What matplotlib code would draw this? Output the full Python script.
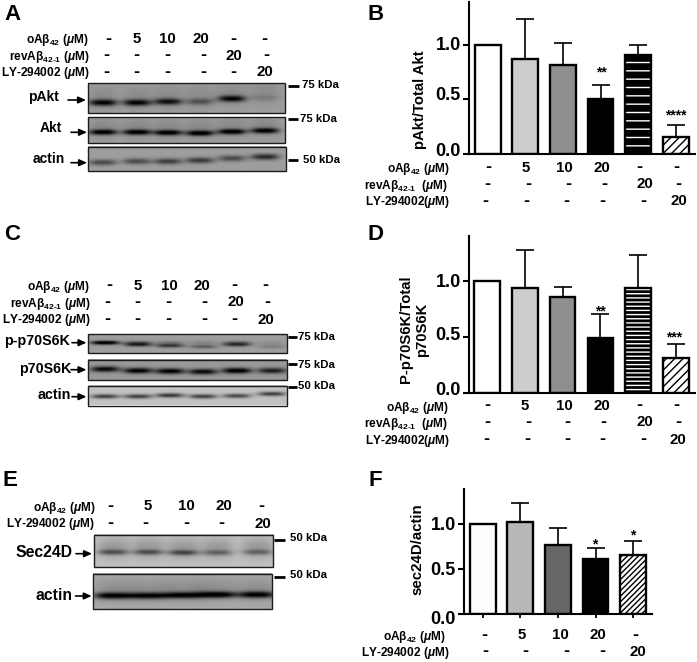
import numpy as np
import matplotlib
matplotlib.use("Agg")
import matplotlib.pyplot as plt
from matplotlib.transforms import ScaledTranslation

plt.rcParams["font.family"] = ["Liberation Sans", "DejaVu Sans"]
plt.rcParams["font.weight"] = "bold"
plt.rcParams["mathtext.fontset"] = "custom"
plt.rcParams["mathtext.rm"] = "Liberation Sans:bold"
plt.rcParams["mathtext.it"] = "Liberation Sans:italic:bold"
plt.rcParams["mathtext.bf"] = "Liberation Sans:bold"
plt.rcParams["mathtext.default"] = "regular"
plt.rcParams["hatch.linewidth"] = 1.0

W, H = 697, 662

# ── bar chart values ───────────────────────────────────────────────────────────
b_vals = [1.0, 0.875, 0.815, 0.50, 0.91, 0.155]
b_errs = [0.0, 0.36, 0.205, 0.135, 0.09, 0.115]
d_vals = [1.0, 0.94, 0.858, 0.49, 0.94, 0.31]
d_errs = [0.0, 0.335, 0.09, 0.22, 0.29, 0.13]
f_vals = [1.0, 1.022, 0.762, 0.606, 0.65]
f_errs = [0.0, 0.215, 0.197, 0.126, 0.16]

# ── condition rows ─────────────────────────────────────────────────────────────
oab_label = r"oAβ$_{42}$ ($\mathit{μ}$M)"
rev_label = r"revAβ$_{42\text{-}1}$ ($\mathit{μ}$M)"
rev_label2 = r"revAβ$_{42\text{-}1}$  ($\mathit{μ}$M)"
ly_label = r"LY-294002 ($\mathit{μ}$M)"
ly_label2 = r"LY-294002($\mathit{μ}$M)"

oab_row6 = ["-", "5", "10", "20", "-", "-"]
rev_row6 = ["-", "-", "-", "-", "20", "-"]
ly_row6 = ["-", "-", "-", "-", "-", "20"]
oab_row5 = ["-", "5", "10", "20", "-"]
ly_row5 = ["-", "-", "-", "-", "20"]

# ── blot band strengths (how dark each lane looks) ─────────────────────────────
pakt_y = [103, 103, 102, 102, 99, 98]
pakt_s = [0.58, 0.58, 0.52, 0.25, 0.56, 0.08]
akt_y = [132.5, 132.5, 133, 133.5, 132, 131]
akt_s = [0.62, 0.64, 0.64, 0.64, 0.64, 0.60]
actin_a_y = [163, 162, 162, 161, 159, 157.5]
actin_a_s = [0.33, 0.33, 0.38, 0.40, 0.33, 0.47]
pp70_upper = [0.32, 0.24, 0.14, 0.10, 0.20, 0.06]
pp70_y = [343, 345, 346, 347, 345, 347]
pp70_s = [0.40, 0.44, 0.42, 0.26, 0.40, 0.13]
p70_y = [369.5, 371, 371.5, 372, 371, 371]
p70_s = [0.58, 0.62, 0.62, 0.58, 0.66, 0.50]
actin_c_y = [397, 397, 396, 397, 396.5, 394.5]
actin_c_s = [0.52, 0.52, 0.56, 0.52, 0.48, 0.52]
sec_y = [552.5, 552.5, 553, 553, 552.5]
sec_s = [0.34, 0.34, 0.38, 0.26, 0.26]
actin_e_y = [596, 596, 595.5, 595, 595]
actin_e_s = [0.62, 0.60, 0.62, 0.66, 0.62]

fig = plt.figure(figsize=(W / 100, H / 100), dpi=100)
fig.patch.set_facecolor("white")

# overlay in picture pixels for the figure furniture
ov = fig.add_axes([0, 0, 1, 1], zorder=5)
ov.set_xlim(0, W)
ov.set_ylim(H, 0)
ov.axis("off")
ov.patch.set_alpha(0)
ov.set_autoscale_on(False)


def txt(x, y, s, size=8.6, ha="center"):
    ov.text(x, y, s, fontsize=size, ha=ha, va="center", color="black")


def row(xs, y, labels, size=10.8):
    for x, s in zip(xs, labels):
        # hyphens are drawn a bit larger, they are chunky in the original
        txt(x, y, s, size=13 if s == "-" else size)


def blot(box, lanes, ys, strengths, bg, width, thick, haze=0.0, ys2=None, s2=None):
    x0, y0, x1, y1 = box
    xx, yy = np.meshgrid(np.linspace(x0, x1, int((x1 - x0) * 3)),
                         np.linspace(y0, y1, int((y1 - y0) * 3)))
    img = np.full(xx.shape, bg, dtype=float)
    for i, cx in enumerate(lanes):
        prof = np.exp(-np.abs((xx - cx) / width) ** 3)
        img -= strengths[i] * prof * np.exp(-((yy - ys[i]) / thick) ** 2)
        if haze:
            # soft lane haze around the band
            img -= haze * np.exp(-np.abs((xx - cx) / (width * 1.1)) ** 3) \
                * np.exp(-((yy - ys[i] + thick * 1.6) / (thick * 4.0)) ** 2)
        if ys2 is not None:
            img -= s2[i] * prof * np.exp(-((yy - ys2[i]) / thick) ** 2)
    ov.imshow(np.clip(img, 0, 1), cmap="gray", vmin=0, vmax=1, aspect="auto",
              extent=(x0, x1, y1, y0), interpolation="bilinear", zorder=1)
    ov.add_patch(plt.Rectangle((x0, y0), x1 - x0, y1 - y0, fill=False,
                               edgecolor="#1c1c1c", linewidth=1.0, zorder=2))


def marker(x0, x1, y, tx, ty, s):
    ov.plot([x0, x1], [y, y], color="black", lw=2.0, solid_capstyle="butt")
    txt(tx, ty, s, size=8.2, ha="left")


def arrow(x0, x1, y, tx, ty, s, size=10):
    ov.annotate("", xy=(x1, y), xytext=(x0, y),
                arrowprops=dict(arrowstyle="-|>,head_length=0.45,head_width=0.2",
                                color="black", lw=1.2, shrinkA=0, shrinkB=0))
    txt(tx, ty, s, size=size)


def bars(rect, x_first, x_step, y_px_per_unit, vals, errs, colors, hatches, inverted,
         label_dy, ticks_below=False):
    left, top, right, bottom = rect
    ax = fig.add_axes([left / W, 1 - bottom / H, (right - left) / W, (bottom - top) / H])
    x = np.arange(len(vals))
    ax.set_xlim((left - x_first) / x_step, (right - x_first) / x_step)
    ax.set_ylim(0, (bottom - top) / y_px_per_unit)
    width = 25.7 / x_step
    for i, v in enumerate(vals):
        ec = "white" if inverted[i] else "black"
        ax.bar(x[i], v, width=width, color=colors[i], edgecolor=ec, hatch=hatches[i],
               linewidth=0, zorder=2)
        ax.bar(x[i], v, width=width, color="none", edgecolor="black", linewidth=1.7, zorder=3)
    ax.errorbar(x[1:], vals[1:], yerr=[np.zeros(len(vals) - 1), errs[1:]], fmt="none",
                ecolor="black", elinewidth=1.2, capsize=6.2, capthick=1.2, zorder=1)
    for s in ["top", "right"]:
        ax.spines[s].set_visible(False)
    for s in ["left", "bottom"]:
        ax.spines[s].set_linewidth(1.5)
    ax.set_yticks([0, 0.5, 1.0])
    ax.set_yticklabels(["0.0", "0.5", "1.0"], fontsize=13, fontweight="bold")
    ax.tick_params(axis="y", length=4.4, width=1.5, pad=1.5)
    # the original tick labels do not sit exactly on their ticks
    for lab, dy in zip(ax.get_yticklabels(), label_dy):
        lab.set_transform(lab.get_transform() + ScaledTranslation(0, dy / 100, fig.dpi_scale_trans))
    if ticks_below:
        ax.set_xticks(x)
        ax.set_xticklabels([])
        ax.tick_params(axis="x", length=3.2, width=1.3)
    else:
        ax.set_xticks([])
    ax.patch.set_alpha(0)
    return ax


# ── Panel A ────────────────────────────────────────────────────────────────────
txt(12.3, 14, "A", size=16)
txt(88, 40, oab_label, ha="right")
txt(89, 57, rev_label, ha="right")
txt(89, 73, ly_label, ha="right")
row([108, 137, 167, 201, 233, 264], 39, oab_row6)
row([106, 136, 167, 203, 234, 266], 55.5, rev_row6)
row([106, 136, 167, 203, 233, 265], 72.3, ly_row6)
lanes_a = [103, 137, 168, 200, 232, 265]
blot((88, 83.3, 285, 113.3), lanes_a, pakt_y, pakt_s, 0.62, 14, 3.2, haze=0.07)
blot((88, 117.3, 285, 143.3), lanes_a, akt_y, akt_s, 0.62, 14, 2.7, haze=0.08)
blot((88.3, 147, 285.7, 171.3), lanes_a, actin_a_y, actin_a_s, 0.62, 14, 3.0)
marker(287.5, 298.5, 86, 301.5, 85, "75 kDa")
marker(287.5, 297.5, 119.3, 300.5, 118.7, "75 kDa")
marker(287.5, 298, 160, 303, 160.3, "50 kDa")
arrow(68, 86, 100, 43.5, 97.3, "pAkt")
arrow(71, 87, 132.3, 51, 128.3, "Akt")
arrow(71, 87, 162.7, 48.7, 159.3, "actin")

# ── Panel B ────────────────────────────────────────────────────────────────────
txt(375.7, 14, "B", size=16)
bars((469, 2, 695, 154), 487.7, 37.6, 109, b_vals, b_errs,
     ["white", "#cdcdcd", "#8f8f8f", "black", "black", "white"],
     [None, None, None, None, "--", "////"],
     [False, False, False, False, True, False], [4, 6, 2])
ov.text(420, 99.7, "pAkt/Total Akt", rotation=90, fontsize=10.7, ha="center", va="center")
ov.text(601, 72, "**", fontsize=10, ha="center", va="center")
ov.text(675.7, 115, "****", fontsize=10, ha="center", va="center")
txt(449, 169, oab_label, ha="right")
txt(448, 186, rev_label2, ha="right")
txt(450, 201.7, ly_label2, ha="right")
row([488, 525.7, 564, 602, 639, 676], 167.7, oab_row6)
row([487.7, 528.3, 568.3, 604, 645, 678.3], 184.3, rev_row6)
row([485.7, 526.7, 566.7, 602.3, 643.3, 679], 201, ly_row6)

# ── Panel C ────────────────────────────────────────────────────────────────────
txt(12.3, 234.7, "C", size=16)
txt(89.5, 287, oab_label, ha="right")
txt(90.5, 304, rev_label, ha="right")
txt(90.5, 320.5, ly_label, ha="right")
row([109, 138, 169, 202, 234.5, 265.5], 285.5, oab_row6)
row([107, 137, 168.5, 204, 235.5, 267.5], 302.5, rev_row6)
row([107, 137, 168, 204, 234.5, 266], 319.5, ly_row6)
lanes_c = [105, 138, 170, 203, 237, 272]
blot((88, 334.3, 287, 353.3), lanes_c, [343] * 6, pp70_upper, 0.62, 14, 2.0,
     ys2=pp70_y, s2=pp70_s)
blot((88, 359.7, 287, 380), lanes_c, p70_y, p70_s, 0.60, 14.5, 2.8)
blot((88, 385.7, 287, 405.5), lanes_c, actin_c_y, actin_c_s, 0.76, 14, 2.2)
marker(288, 296.5, 337.3, 298, 336.5, "75 kDa")
marker(288, 296.5, 364.3, 298.5, 365, "75 kDa")
marker(288, 296.5, 386.7, 298.5, 386, "50 kDa")
arrow(72, 86.5, 342.7, 36.5, 341, "p-p70S6K", size=10.3)
arrow(71, 86.5, 369.7, 45, 369.3, "p70S6K", size=10.3)
arrow(72, 86.5, 396.7, 54, 395, "actin", size=10.3)

# ── Panel D ────────────────────────────────────────────────────────────────────
txt(375.7, 235, "D", size=16)
bars((469, 236, 695, 393.3), 487, 37.8, 112.3, d_vals, d_errs,
     ["white", "#cdcdcd", "#8f8f8f", "black", "black", "white"],
     [None, None, None, None, "----", "////"],
     [False, False, False, False, True, False], [5, 4, 0.5])
ov.text(414, 329.5, "P-p70S6K/Total\np70S6K", rotation=90, fontsize=10.7, ha="center", va="center",
        multialignment="center", linespacing=1.15)
ov.text(600.7, 311, "**", fontsize=10, ha="center", va="center")
ov.text(674, 337, "***", fontsize=10, ha="center", va="center")
txt(448.5, 408, oab_label, ha="right")
txt(447.5, 424, rev_label2, ha="right")
txt(450, 441, ly_label2, ha="right")
row([487, 525, 564, 602, 639, 676], 405.7, oab_row6)
row([487, 528, 567, 603, 645, 678], 422.5, rev_row6)
row([486, 527, 567, 602, 643, 678], 439.5, ly_row6)

# ── Panel E ────────────────────────────────────────────────────────────────────
txt(10, 480, "E", size=16)
txt(95, 507.5, oab_label, ha="right")
txt(94.5, 524, ly_label, ha="right")
row([110, 147.5, 186, 224, 261.5], 506.5, oab_row5)
row([110, 145, 186, 221, 263], 523.5, ly_row5)
lanes_e = [113, 148, 183, 217, 257]
blot((94, 534.7, 273.3, 567), lanes_e, sec_y, sec_s, 0.76, 15, 2.6, haze=0.16)
blot((93.3, 573.7, 272, 609), lanes_e, actin_e_y, actin_e_s, 0.68, 19, 3.2, haze=0.12)
marker(273.5, 285, 539.7, 289.7, 538.3, "50 kDa")
marker(273.5, 285, 577, 289.7, 575.3, "50 kDa")
arrow(76, 92, 553.7, 44, 552.7, "Sec24D", size=11.3)
arrow(75.5, 91.7, 596, 54, 596, "actin", size=11.3)

# ── Panel F ────────────────────────────────────────────────────────────────────
txt(375, 480, "F", size=16)
bars((464, 488.7, 651.7, 613.7), 482.7, 37.6, 89.7, f_vals, f_errs,
     ["#fdfdfd", "#b8b8b8", "#666666", "black", "white"],
     [None, None, None, None, "//////"],
     [False, False, False, False, False], [-4, 0, 1], ticks_below=True)
ov.text(417.7, 549.2, "sec24D/actin", rotation=90, fontsize=10.8, ha="center", va="center")
ov.text(595, 544, "*", fontsize=10, ha="center", va="center")
ov.text(632.7, 535, "*", fontsize=10, ha="center", va="center")
txt(445, 637, oab_label, ha="right")
txt(449, 652.7, ly_label, ha="right")
row([484, 521.7, 560.7, 598.3, 635], 635, oab_row5)
row([485, 525.7, 566, 602.3, 638.3], 651.7, ly_row5)

ov.set_xlim(0, W)
ov.set_ylim(H, 0)
plt.savefig("out.png", dpi=100)
plt.close()
